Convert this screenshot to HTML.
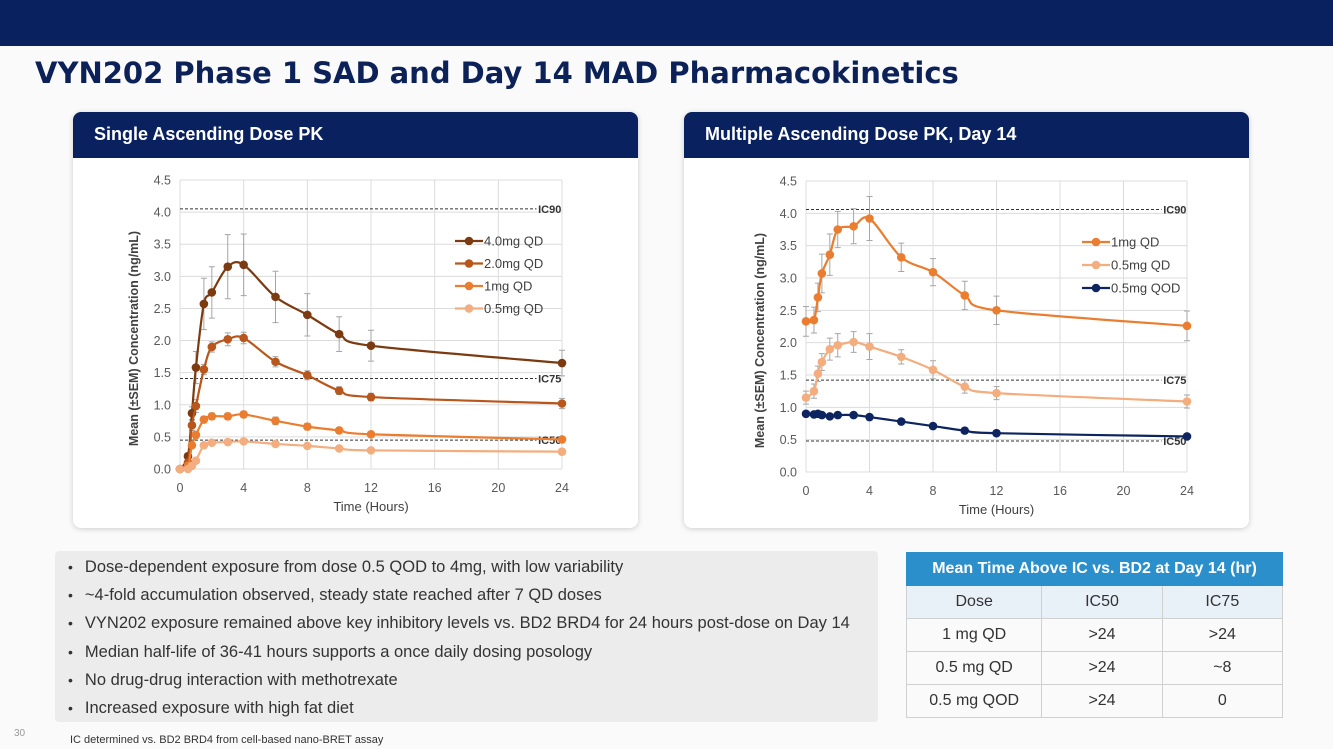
<!DOCTYPE html>
<html><head><meta charset="utf-8">
<style>
body{margin:0;width:1333px;height:749px;background:#fafafa;position:relative;overflow:hidden;font-family:"Liberation Sans",sans-serif;}
.abs{position:absolute;}
.card{background:#fff;border-radius:8px;box-shadow:0 1px 6px rgba(0,0,0,0.18);}
.chead{background:#0a2160;color:#fff;font-weight:bold;font-size:18px;border-radius:8px 8px 0 0;height:46px;line-height:44px;padding-left:21px;box-sizing:border-box;}
table{border-collapse:collapse;}
td{border:1px solid #d0d0d0;text-align:center;font-size:16px;color:#333;height:32px;padding:0;}
ul{margin:0;padding:0;list-style:none;}
li{font-size:16.5px;color:#333;height:28.2px;line-height:28px;}
li:before{content:"•";margin:0 12px 0 0;font-size:14px;}
</style></head>
<body>
<div class="abs" style="left:0;top:0;width:1333px;height:46px;background:#0a2160"></div>
<div class="abs" style="left:35px;top:56px;font-family:'DejaVu Sans',sans-serif;font-size:29px;font-weight:bold;color:#0b2158;">VYN202 Phase 1 SAD and Day 14 MAD Pharmacokinetics</div>

<div class="abs card" style="left:73px;top:112px;width:565px;height:416px;">
  <div class="chead">Single Ascending Dose PK</div>
</div>
<div class="abs card" style="left:684px;top:112px;width:565px;height:416px;">
  <div class="chead">Multiple Ascending Dose PK, Day 14</div>
</div>

<svg class="abs" id="charts" style="left:0;top:0" width="1333" height="749"></svg>

<div class="abs" style="left:55px;top:551px;width:823px;height:171px;background:#ececec;border-radius:4px;">
<ul style="padding:2px 0 0 13px">
<li>Dose-dependent exposure from dose 0.5 QOD to 4mg, with low variability</li>
<li>~4-fold accumulation observed, steady state reached after 7 QD doses</li>
<li>VYN202 exposure remained above key inhibitory levels vs. BD2 BRD4 for 24 hours post-dose on Day 14</li>
<li>Median half-life of 36-41 hours supports a once daily dosing posology</li>
<li>No drug-drug interaction with methotrexate</li>
<li>Increased exposure with high fat diet</li>
</ul></div>

<table class="abs" style="left:906px;top:552px;width:377px;">
<tr><td colspan="3" style="background:#2b8fcb;color:#fff;font-weight:bold;border-color:#2b8fcb;height:32px">Mean Time Above IC vs. BD2 at Day 14 (hr)</td></tr>
<tr style="background:#e8f0f8"><td style="width:36%">Dose</td><td>IC50</td><td>IC75</td></tr>
<tr><td>1 mg QD</td><td>&gt;24</td><td>&gt;24</td></tr>
<tr><td>0.5 mg QD</td><td>&gt;24</td><td>~8</td></tr>
<tr><td>0.5 mg QOD</td><td>&gt;24</td><td>0</td></tr>
</table>

<div class="abs" style="left:14px;top:728px;font-size:10px;color:#999">30</div>
<div class="abs" style="left:70px;top:734px;font-size:11px;color:#333">IC determined vs. BD2 BRD4 from cell-based nano-BRET assay</div>

<script>
const times = [0,0.5,0.75,1,1.5,2,3,4,6,8,10,12,24];
const xTicks = [0,4,8,12,16,20,24];
const yTicks = [0,0.5,1,1.5,2,2.5,3,3.5,4,4.5];
const icNames = ["IC90","IC75","IC50"];
const sadIC = [4.05,1.41,0.45];
const madIC = [4.06,1.42,0.48];
const sadNames = ["4.0mg QD","2.0mg QD","1mg QD","0.5mg QD"];
const sad4 = [0,0.2,0.87,1.58,2.57,2.75,3.15,3.18,2.68,2.40,2.10,1.92,1.65];
const sad4Err = [0,0,0.1,0.25,0.4,0.4,0.5,0.48,0.4,0.33,0.27,0.24,0.2];
const sad2 = [0,0.1,0.68,0.98,1.55,1.9,2.02,2.04,1.67,1.46,1.22,1.12,1.02];
const sad2Err = [0,0.03,0.08,0.1,0.08,0.08,0.1,0.09,0.08,0.07,0.06,0.06,0.08];
const sad1 = [0,0.05,0.37,0.53,0.77,0.82,0.82,0.85,0.75,0.66,0.6,0.54,0.46];
const sad1Err = [0,0.02,0.04,0.05,0.05,0.05,0.05,0.05,0.06,0.05,0.04,0.03,0.03];
const sad05 = [0,0,0.05,0.13,0.37,0.41,0.42,0.43,0.39,0.36,0.32,0.29,0.27];
const sad05Err = [0,0.01,0.03,0.03,0.03,0.03,0.03,0.03,0.03,0.03,0.02,0.02,0.02];
const madNames = ["1mg QD","0.5mg QD","0.5mg QOD"];
const mad1 = [2.33,2.35,2.7,3.07,3.36,3.75,3.8,3.92,3.32,3.09,2.73,2.5,2.26];
const mad1Err = [0.23,0.2,0.22,0.3,0.32,0.28,0.27,0.34,0.22,0.21,0.22,0.22,0.23];
const mad05 = [1.15,1.25,1.52,1.7,1.9,1.96,2.01,1.94,1.78,1.58,1.32,1.22,1.09];
const mad05Err = [0.1,0.11,0.12,0.13,0.17,0.18,0.16,0.2,0.11,0.14,0.1,0.1,0.1];
const madQod = [0.9,0.89,0.9,0.88,0.86,0.88,0.88,0.85,0.78,0.71,0.64,0.6,0.55];

const NS="http://www.w3.org/2000/svg";
const svg=document.getElementById('charts');
function mk(tag,attrs,parent){const e=document.createElementNS(NS,tag);for(const k in attrs)e.setAttribute(k,attrs[k]);(parent||svg).appendChild(e);return e;}

function chart(cfg){
  const g=mk('g',{});
  
  
  const xs=v=>cfg.x0+v*(cfg.x1-cfg.x0)/24;
  const ys=v=>cfg.y0-v*(cfg.y0-cfg.y1)/4.5;
  yTicks.forEach(t=>{
    const l=mk('line',{x1:xs(0),x2:xs(24),y1:ys(t),y2:ys(t),stroke:'#dcdcdc','stroke-width':1},g);
    
    
    const tx=mk('text',{x:xs(0)-9,y:ys(t)+4.5,'text-anchor':'end','font-size':12.5,fill:'#595959'},g);
    
    
    tx.textContent=t.toFixed(1);
  });
  xTicks.forEach(t=>{
    const l=mk('line',{x1:xs(t),x2:xs(t),y1:ys(0),y2:ys(4.5),stroke:'#dcdcdc','stroke-width':1},g);
    
    
    const tx=mk('text',{x:xs(t),y:ys(0)+23,'text-anchor':'middle','font-size':12.5,fill:'#595959'},g);
    
    
    tx.textContent=t;
  });
  const xt=mk('text',{x:(xs(0)+xs(24))/2,y:ys(0)+42,'text-anchor':'middle','font-size':13,fill:'#404040'},g);
  
  
  xt.textContent='Time (Hours)';
  const yt=mk('text',{x:0,y:0,'text-anchor':'middle','font-size':12.5,'font-weight':'bold',fill:'#404040',transform:`translate(${xs(0)-42},${(ys(0)+ys(4.5))/2+14}) rotate(-90)`},g);
  
  
  yt.textContent='Mean (\u00B1SEM) Concentration (ng/mL)';
  cfg.ic.forEach((v,i)=>{
    const l=mk('line',{x1:xs(0),x2:xs(22.4),y1:ys(v),y2:ys(v),stroke:'#333','stroke-width':1,'stroke-dasharray':'3,2'},g);
    
    
    const tx=mk('text',{x:xs(22.5),y:ys(v)+4,'font-size':11,'font-weight':'bold',fill:'#333'},g);
    
    
    tx.textContent=icNames[i];
  });
  cfg.series.forEach((s,si)=>{
    if(s.err) s.vals.forEach((v,i)=>{
      if(!s.err[i])return;
      const x=xs(times[i]);
      const e=mk('path',{d:`M${x},${ys(v-s.err[i])}V${ys(v+s.err[i])}M${x-3},${ys(v-s.err[i])}h6M${x-3},${ys(v+s.err[i])}h6`,stroke:'#a6a6a6','stroke-width':1,fill:'none'},g);
      
      
    });
  });
  cfg.series.forEach((s,si)=>{
    const pts=s.vals.map((v,i)=>[xs(times[i]),ys(v)]);
    let d='M'+pts[0].join(',');
    for(let i=1;i<pts.length;i++){
      const p0=pts[Math.max(0,i-2)],p1=pts[i-1],p2=pts[i],p3=pts[Math.min(pts.length-1,i+1)];
      const t=0.16;
      d+=`C${p1[0]+(p2[0]-p0[0])*t},${p1[1]+(p2[1]-p0[1])*t} ${p2[0]-(p3[0]-p1[0])*t},${p2[1]-(p3[1]-p1[1])*t} ${p2[0]},${p2[1]}`;
    }
    const ln=mk('path',{d,stroke:s.c,'stroke-width':2.2,fill:'none'},g);
    
    
    pts.forEach(p=>{
      const c=mk('circle',{cx:p[0],cy:p[1],r:4.3,fill:s.c},g);
      
      
    });
    const ly=cfg.ly+si*cfg.ldy;
    const ll=mk('line',{x1:cfg.lx,x2:cfg.lx+28,y1:ly,y2:ly,stroke:s.c,'stroke-width':2.2},g);
    
    
    const lc=mk('circle',{cx:cfg.lx+14,cy:ly,r:4.3,fill:s.c},g);
    
    
    const lt=mk('text',{x:cfg.lx+29,y:ly+4.5,'font-size':13,fill:'#404040'},g);
    
    
    lt.textContent=s.n;
  });
}
chart({id:'sad-chart',x0:180,x1:562,y0:469,y1:180,ic:sadIC,lx:455,ly:241,ldy:22.5,series:[
  {n:sadNames[0],vals:sad4,err:sad4Err,c:'#7b3a10'},
  {n:sadNames[1],vals:sad2,err:sad2Err,c:'#b9561b'},
  {n:sadNames[2],vals:sad1,err:sad1Err,c:'#ea7d2f'},
  {n:sadNames[3],vals:sad05,err:sad05Err,c:'#f3ad7e'}]});
chart({id:'mad-chart',x0:806,x1:1187,y0:472,y1:181,ic:madIC,lx:1082,ly:242,ldy:23,series:[
  {n:madNames[0],vals:mad1,err:mad1Err,c:'#ea7d2f'},
  {n:madNames[1],vals:mad05,err:mad05Err,c:'#f3ad7e'},
  {n:madNames[2],vals:madQod,err:null,c:'#0d2460'}]});
</script>
</body></html>
